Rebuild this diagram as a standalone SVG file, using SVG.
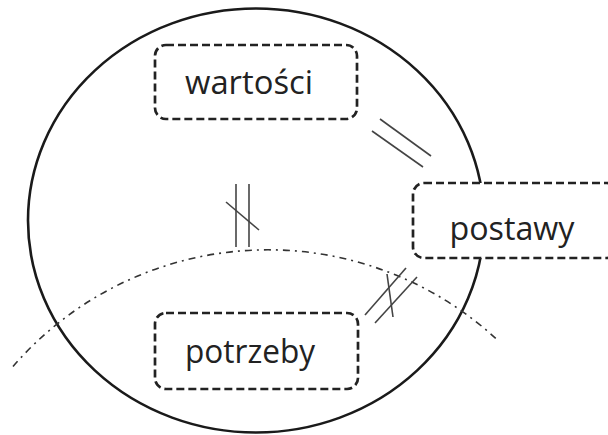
<svg xmlns="http://www.w3.org/2000/svg" width="608" height="435" viewBox="0 0 608 435">
<style>
.box{fill:#fff;stroke:#222;stroke-width:2.7;stroke-dasharray:8 4}
.lbl{font-family:"Open Sans","Liberation Sans",sans-serif;font-size:33px;fill:#222;text-anchor:middle}
.hatch{stroke:#444;stroke-width:1.6;fill:none}
</style>
<rect width="608" height="435" fill="#fff"/>
<g id="ellipse">
<ellipse cx="256" cy="220.5" rx="228" ry="212" fill="none" stroke="#1a1a1a" stroke-width="2.6"/>
</g>
<g id="boundary">
<path d="M13,366.5 A337,337 0 0,1 498,340.5" fill="none" stroke="#333" stroke-width="1.6" stroke-dasharray="7 5 2 5"/>
</g>
<g id="connectors">
<line class="hatch" x1="380" y1="119" x2="431" y2="156"/>
<line class="hatch" x1="372" y1="131" x2="423" y2="167"/>
<line class="hatch" x1="236" y1="184" x2="236" y2="247"/>
<line class="hatch" x1="249" y1="184" x2="249" y2="247"/>
<line class="hatch" x1="226" y1="202" x2="259" y2="230"/>
<line class="hatch" x1="365" y1="315" x2="406" y2="268"/>
<line class="hatch" x1="375" y1="323" x2="417" y2="277"/>
<line class="hatch" x1="387" y1="274" x2="393" y2="317"/>
</g>
<g id="wartosci">
<rect class="box" x="155" y="45" width="202" height="74" rx="11"/>
<text class="lbl" x="249" y="94" textLength="128" lengthAdjust="spacingAndGlyphs">wartości</text>
</g>
<g id="postawy">
<rect class="box" x="413" y="183" width="205" height="75" rx="11"/>
<text class="lbl" x="512" y="240" textLength="125" lengthAdjust="spacingAndGlyphs">postawy</text>
</g>
<g id="potrzeby">
<rect class="box" x="155" y="313" width="203" height="76" rx="11"/>
<text class="lbl" x="250" y="363" textLength="130" lengthAdjust="spacingAndGlyphs">potrzeby</text>
</g>
</svg>
